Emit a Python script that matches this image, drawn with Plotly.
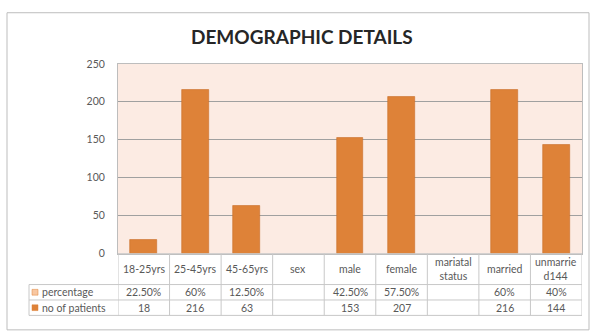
import plotly.graph_objects as go

W, H = 592, 332

categories = ["18-25yrs", "25-45yrs", "45-65yrs", "sex", "male", "female",
              "mariatal status", "married", "unmarried144"]
header_labels = ["18-25yrs", "25-45yrs", "45-65yrs", "sex", "male", "female",
                 "mariatal<br>status", "married", "unmarrie<br>d144"]
percentage = [22.5, 60, 12.5, None, 42.5, 57.5, None, 60, 40]
patients = [18, 216, 63, None, 153, 207, None, 216, 144]
series_names = ["percentage", "no of patients"]
y_ticks = [0, 50, 100, 150, 200, 250]

BAR = "#DE8238"
BAR_LIGHT = "#F8C7A1"
GRID = "#A0A0A0"
TXT = "#595959"
FONT = "Lato"
FS = 10.5

# pixel geometry helpers
def px(x):
    return x / W

def py(y):
    return 1 - y / H

plot_l, plot_r, plot_t, plot_b = 118, 582, 60, 257
tab_l = 29
row_hdr_b = 289
row1_b = 305
row2_b = 321


def fmt_pct(v):
    if v is None:
        return ""
    if float(v).is_integer():
        return f"{int(v)}%"
    return f"{v:.2f}%"


def fmt_num(v):
    return "" if v is None else str(v)


fig = go.Figure()
fig.add_trace(go.Bar(
    x=categories, y=patients, name=series_names[1],
    marker=dict(color=BAR, line=dict(color="#C96E28", width=0.6)),
    width=0.52, showlegend=False,
))

shapes = []
annotations = []

# outer chart border
shapes.append(dict(type="rect", xref="paper", yref="paper",
                   x0=px(7), x1=px(589), y0=py(336), y1=py(7),
                   line=dict(color="#BDBDBD", width=1), layer="below"))

n = len(categories)
# table horizontal lines (category area)
for yy in [plot_b, row_hdr_b, row1_b, row2_b]:
    shapes.append(dict(type="line", xref="x", yref="paper",
                       x0=-0.5, x1=n - 0.5, y0=py(yy), y1=py(yy),
                       line=dict(color="#C8C8C8", width=1)))
# left label column horizontal lines
for yy in [row_hdr_b, row1_b, row2_b]:
    shapes.append(dict(type="line", xref="paper", yref="paper",
                       x0=px(tab_l), x1=px(plot_l), y0=py(yy), y1=py(yy),
                       line=dict(color="#C8C8C8", width=1)))
shapes.append(dict(type="line", xref="paper", yref="paper",
                   x0=px(tab_l), x1=px(tab_l), y0=py(row_hdr_b), y1=py(row2_b),
                   line=dict(color="#C8C8C8", width=1)))
# vertical category dividers
for i in range(n + 1):
    shapes.append(dict(type="line", xref="x", yref="paper",
                       x0=i - 0.5, x1=i - 0.5, y0=py(plot_b), y1=py(row2_b),
                       line=dict(color="#C8C8C8", width=1)))

# header labels
for i, lab in enumerate(header_labels):
    annotations.append(dict(x=i, xref="x", y=py((plot_b + row_hdr_b) / 2), yref="paper",
                            text=lab, showarrow=False, font=dict(size=FS, color=TXT, family=FONT),
                            xanchor="center", yanchor="middle", align="center"))
# data rows
for i in range(n):
    annotations.append(dict(x=i, xref="x", y=py((row_hdr_b + row1_b) / 2), yref="paper",
                            text=fmt_pct(percentage[i]), showarrow=False,
                            font=dict(size=FS, color=TXT, family=FONT),
                            xanchor="center", yanchor="middle"))
    annotations.append(dict(x=i, xref="x", y=py((row1_b + row2_b) / 2), yref="paper",
                            text=fmt_num(patients[i]), showarrow=False,
                            font=dict(size=FS, color=TXT, family=FONT),
                            xanchor="center", yanchor="middle"))

# row legend labels with key squares
for (top, bot), name, col in zip([(row_hdr_b, row1_b), (row1_b, row2_b)],
                                 series_names, [BAR_LIGHT, BAR]):
    cy = (top + bot) / 2
    shapes.append(dict(type="rect", xref="paper", yref="paper",
                       x0=px(32), x1=px(38), y0=py(cy + 3), y1=py(cy - 3),
                       fillcolor=col, line=dict(color=BAR, width=0.5)))
    annotations.append(dict(x=px(40), xref="paper", y=py(cy), yref="paper",
                            text=name, showarrow=False,
                            font=dict(size=FS, color=TXT, family=FONT),
                            xanchor="left", yanchor="middle"))

# title
annotations.append(dict(x=px(302), xref="paper", y=py(32), yref="paper",
                        text="<b>DEMOGRAPHIC DETAILS</b>", showarrow=False,
                        font=dict(size=19, color="#262626", family=FONT),
                        xanchor="center", yanchor="middle"))

fig.update_layout(
    width=W, height=H,
    margin=dict(l=0, r=0, t=0, b=0),
    paper_bgcolor="white",
    plot_bgcolor="#FCEBE3",
    shapes=shapes,
    annotations=annotations,
    bargap=0,
    xaxis=dict(domain=[px(plot_l), px(plot_r)], range=[-0.5, n - 0.5],
               showticklabels=False, ticks="", showgrid=False,
               showline=True, linecolor="#BDBDBD", mirror=True, zeroline=False),
    yaxis=dict(domain=[py(plot_b), py(plot_t)], range=[0, 250],
               tickvals=y_ticks, ticks="", showgrid=True, gridcolor=GRID, gridwidth=1,
               showline=True, linecolor="#BDBDBD", mirror=True, zeroline=False,
               tickfont=dict(size=FS, color=TXT, family=FONT), ticklabelstandoff=10),
    showlegend=False,
)

fig.write_html("out.html")
